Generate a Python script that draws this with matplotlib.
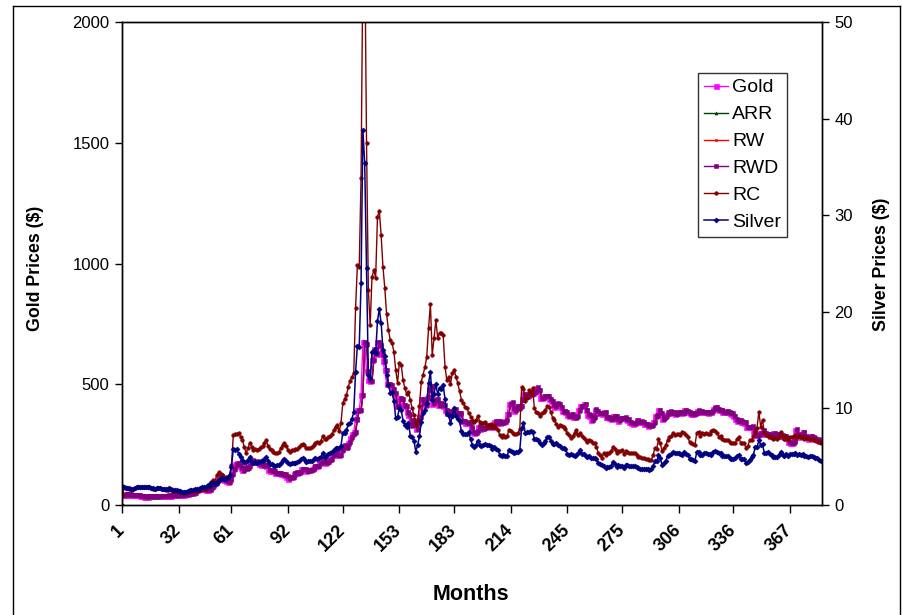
import numpy as np
import matplotlib
matplotlib.use("Agg")
import matplotlib.pyplot as plt
import matplotlib.transforms as mtransforms
from matplotlib.lines import Line2D

plt.rcParams['font.family'] = ['Liberation Sans', 'DejaVu Sans']

# Monthly observations, Jan 1969 .. Dec 2000 (one row per year)
gold = [
    42.3, 42.6, 43.2, 43.3, 43.5, 41.3, 41.8, 41.0, 40.7, 40.4, 37.4, 35.2,
    34.9, 35.0, 35.1, 35.6, 35.9, 35.4, 35.3, 35.4, 36.2, 37.5, 37.4, 37.4,
    37.9, 38.7, 38.9, 39.0, 40.5, 40.1, 40.9, 42.7, 42.0, 42.5, 42.9, 43.5,
    45.8, 48.3, 48.3, 49.0, 54.6, 62.1, 65.7, 67.0, 65.5, 64.9, 62.9, 63.9,
    65.1, 74.2, 84.4, 90.5, 102.0, 122.5, 120.2, 106.8, 103.0, 100.1, 94.8, 106.7,
    129.2, 150.2, 168.4, 172.2, 163.3, 154.1, 143.0, 154.6, 151.8, 158.8, 181.7, 183.9,
    176.3, 179.6, 178.2, 170.1, 167.4, 164.2, 165.1, 163.0, 144.1, 142.7, 142.8, 139.3,
    131.6, 131.1, 132.7, 127.9, 126.9, 125.8, 117.8, 109.3, 114.3, 116.0, 130.1, 133.9,
    132.3, 136.3, 148.2, 149.2, 146.9, 140.8, 143.2, 144.6, 150.0, 159.3, 162.0, 160.5,
    173.2, 178.2, 183.7, 175.3, 176.3, 183.7, 188.7, 206.0, 212.4, 227.4, 206.0, 207.8,
    227.3, 245.7, 242.1, 239.2, 257.6, 279.1, 294.7, 300.8, 355.1, 391.7, 392.5, 455.1,
    675.3, 665.3, 553.6, 517.4, 513.8, 600.7, 644.3, 627.0, 673.6, 661.2, 623.5, 594.9,
    557.6, 500.5, 499.8, 495.8, 479.7, 460.8, 409.3, 410.1, 443.6, 437.8, 413.4, 410.1,
    384.0, 374.2, 330.0, 350.4, 333.9, 314.9, 338.6, 364.2, 438.0, 422.9, 414.4, 444.9,
    481.3, 491.1, 419.7, 432.8, 438.4, 412.9, 422.5, 416.3, 411.8, 393.6, 381.6, 388.0,
    370.9, 386.2, 394.6, 381.4, 377.7, 377.7, 348.2, 347.7, 341.1, 340.2, 341.2, 320.2,
    302.8, 299.1, 304.0, 324.7, 316.1, 316.9, 317.3, 330.0, 323.4, 325.6, 325.3, 322.4,
    345.5, 339.0, 346.4, 340.4, 342.6, 342.6, 348.7, 376.4, 418.0, 423.6, 398.6, 391.3,
    408.1, 401.1, 408.9, 438.4, 460.1, 449.6, 450.5, 460.7, 459.8, 465.5, 467.4, 486.3,
    476.7, 442.1, 443.6, 452.1, 451.3, 451.8, 437.5, 431.4, 413.6, 406.8, 420.2, 418.6,
    404.0, 387.8, 390.2, 384.3, 371.0, 367.6, 375.0, 365.4, 362.6, 367.0, 391.8, 409.2,
    410.1, 416.8, 393.1, 374.3, 369.6, 352.3, 362.5, 394.8, 389.3, 380.7, 381.8, 378.2,
    383.6, 363.8, 363.3, 358.4, 356.8, 366.7, 367.7, 356.4, 348.7, 358.7, 359.6, 361.8,
    354.5, 353.9, 344.3, 338.6, 337.2, 341.0, 352.8, 343.2, 345.4, 344.4, 335.0, 334.8,
    329.0, 329.3, 330.1, 342.2, 367.2, 371.9, 392.0, 379.8, 355.5, 364.2, 373.6, 383.4,
    387.0, 382.0, 383.9, 377.3, 381.4, 385.6, 385.5, 380.4, 391.6, 389.8, 384.4, 379.3,
    378.6, 376.5, 382.1, 391.0, 385.2, 387.6, 386.2, 383.7, 383.1, 383.0, 385.5, 387.0,
    399.5, 404.8, 396.2, 392.8, 391.9, 385.3, 383.5, 387.5, 383.1, 381.1, 377.9, 369.0,
    355.0, 346.6, 351.8, 344.5, 343.8, 340.8, 324.1, 324.0, 322.8, 324.9, 306.0, 288.7,
    289.1, 297.5, 295.9, 308.3, 299.1, 292.3, 292.9, 284.1, 288.9, 296.1, 294.1, 291.6,
    287.1, 287.3, 286.0, 282.6, 276.4, 261.3, 256.1, 256.7, 265.0, 311.6, 293.2, 283.1,
    284.6, 300.4, 286.4, 279.7, 275.1, 285.7, 281.6, 274.5, 273.7, 270.0, 266.0, 271.5,
]

arr = [
    41, 41, 42, 42, 42, 43, 40, 41, 40, 40, 39, 36,
    34, 34, 34, 34, 35, 35, 34, 34, 34, 35, 37, 36,
    36, 37, 38, 38, 38, 40, 39, 40, 42, 41, 42, 42,
    43, 45, 47, 47, 48, 54, 61, 65, 66, 65, 64, 62,
    63, 64, 73, 83, 90, 101, 122, 119, 106, 102, 99, 94,
    106, 128, 149, 167, 171, 162, 153, 142, 154, 151, 158, 181,
    183, 175, 179, 177, 169, 166, 163, 164, 162, 143, 142, 142,
    138, 131, 130, 132, 127, 126, 125, 117, 108, 113, 115, 129,
    133, 131, 135, 147, 148, 146, 140, 142, 144, 149, 158, 161,
    160, 172, 177, 183, 174, 175, 183, 188, 205, 211, 226, 205,
    207, 226, 245, 241, 238, 257, 278, 294, 300, 354, 391, 392,
    454, 674, 664, 553, 516, 513, 600, 643, 626, 673, 660, 623,
    594, 557, 500, 499, 495, 479, 460, 408, 409, 443, 437, 412,
    409, 383, 373, 329, 349, 333, 314, 338, 363, 437, 422, 413,
    444, 480, 490, 419, 432, 437, 412, 422, 415, 411, 393, 381,
    387, 370, 385, 394, 380, 377, 377, 347, 347, 340, 339, 340,
    319, 302, 298, 303, 324, 315, 316, 316, 329, 322, 325, 324,
    321, 345, 338, 345, 339, 342, 342, 348, 375, 417, 423, 398,
    390, 407, 400, 408, 437, 459, 449, 450, 460, 459, 465, 466,
    485, 476, 441, 443, 451, 450, 451, 437, 430, 413, 406, 419,
    418, 403, 387, 389, 383, 370, 367, 374, 364, 362, 366, 391,
    408, 409, 416, 392, 373, 369, 351, 362, 394, 388, 380, 381,
    377, 383, 363, 362, 357, 356, 366, 367, 355, 348, 358, 359,
    361, 354, 353, 343, 338, 336, 340, 352, 342, 344, 343, 334,
    334, 328, 328, 329, 341, 366, 371, 391, 379, 355, 363, 373,
    382, 386, 381, 383, 376, 380, 385, 385, 379, 391, 389, 383,
    378, 378, 376, 381, 390, 384, 387, 385, 383, 382, 382, 385,
    386, 399, 404, 395, 392, 391, 384, 383, 387, 382, 380, 377,
    368, 354, 346, 351, 344, 343, 340, 323, 323, 322, 324, 305,
    288, 288, 297, 295, 307, 298, 291, 292, 283, 288, 295, 293,
    291, 286, 286, 285, 282, 275, 260, 255, 256, 264, 311, 292,
    282, 284, 299, 285, 279, 274, 285, 281, 274, 273, 269, 265,
]

rw = [
    42, 42, 43, 43, 43, 44, 41, 42, 41, 41, 40, 37,
    35, 35, 35, 35, 36, 36, 35, 35, 35, 36, 38, 37,
    37, 38, 39, 39, 39, 41, 40, 41, 43, 42, 43, 43,
    44, 46, 48, 48, 49, 55, 62, 66, 67, 66, 65, 63,
    64, 65, 74, 84, 91, 102, 123, 120, 107, 103, 100, 95,
    107, 129, 150, 168, 172, 163, 154, 143, 155, 152, 159, 182,
    184, 176, 180, 178, 170, 167, 164, 165, 163, 144, 143, 143,
    139, 132, 131, 133, 128, 127, 126, 118, 109, 114, 116, 130,
    134, 132, 136, 148, 149, 147, 141, 143, 145, 150, 159, 162,
    161, 173, 178, 184, 175, 176, 184, 189, 206, 212, 227, 206,
    208, 227, 246, 242, 239, 258, 279, 295, 301, 355, 392, 393,
    455, 675, 665, 554, 517, 514, 601, 644, 627, 674, 661, 624,
    595, 558, 501, 500, 496, 480, 461, 409, 410, 444, 438, 413,
    410, 384, 374, 330, 350, 334, 315, 339, 364, 438, 423, 414,
    445, 481, 491, 420, 433, 438, 413, 423, 416, 412, 394, 382,
    388, 371, 386, 395, 381, 378, 378, 348, 348, 341, 340, 341,
    320, 303, 299, 304, 325, 316, 317, 317, 330, 323, 326, 325,
    322, 346, 339, 346, 340, 343, 343, 349, 376, 418, 424, 399,
    391, 408, 401, 409, 438, 460, 450, 451, 461, 460, 466, 467,
    486, 477, 442, 444, 452, 451, 452, 438, 431, 414, 407, 420,
    419, 404, 388, 390, 384, 371, 368, 375, 365, 363, 367, 392,
    409, 410, 417, 393, 374, 370, 352, 363, 395, 389, 381, 382,
    378, 384, 364, 363, 358, 357, 367, 368, 356, 349, 359, 360,
    362, 355, 354, 344, 339, 337, 341, 353, 343, 345, 344, 335,
    335, 329, 329, 330, 342, 367, 372, 392, 380, 356, 364, 374,
    383, 387, 382, 384, 377, 381, 386, 386, 380, 392, 390, 384,
    379, 379, 377, 382, 391, 385, 388, 386, 384, 383, 383, 386,
    387, 400, 405, 396, 393, 392, 385, 384, 388, 383, 381, 378,
    369, 355, 347, 352, 345, 344, 341, 324, 324, 323, 325, 306,
    289, 289, 298, 296, 308, 299, 292, 293, 284, 289, 296, 294,
    292, 287, 287, 286, 283, 276, 261, 256, 257, 265, 312, 293,
    283, 285, 300, 286, 280, 275, 286, 282, 275, 274, 270, 266,
]

rwd = [
    43, 43, 44, 44, 44, 45, 42, 43, 42, 42, 41, 38,
    36, 36, 36, 36, 37, 37, 36, 36, 36, 37, 39, 38,
    38, 39, 40, 40, 40, 42, 41, 42, 44, 43, 44, 44,
    45, 47, 49, 49, 50, 56, 63, 67, 68, 67, 66, 64,
    65, 66, 75, 85, 92, 103, 124, 121, 108, 104, 101, 96,
    108, 130, 151, 169, 173, 164, 155, 144, 156, 153, 160, 183,
    185, 177, 181, 179, 171, 168, 165, 166, 164, 145, 144, 144,
    140, 133, 132, 134, 129, 128, 127, 119, 110, 115, 117, 131,
    135, 133, 137, 149, 150, 148, 142, 144, 146, 151, 160, 163,
    162, 174, 179, 185, 176, 177, 185, 190, 207, 213, 228, 207,
    209, 228, 247, 243, 240, 259, 280, 296, 302, 356, 393, 394,
    456, 676, 666, 555, 518, 515, 602, 645, 628, 675, 662, 625,
    596, 559, 502, 501, 497, 481, 462, 410, 411, 445, 439, 414,
    411, 385, 375, 331, 351, 335, 316, 340, 365, 439, 424, 415,
    446, 482, 492, 421, 434, 439, 414, 424, 417, 413, 395, 383,
    389, 372, 387, 396, 382, 379, 379, 349, 349, 342, 341, 342,
    321, 304, 300, 305, 326, 317, 318, 318, 331, 324, 327, 326,
    323, 347, 340, 347, 341, 344, 344, 350, 377, 419, 425, 400,
    392, 409, 402, 410, 439, 461, 451, 452, 462, 461, 467, 468,
    487, 478, 443, 445, 453, 452, 453, 439, 432, 415, 408, 421,
    420, 405, 389, 391, 385, 372, 369, 376, 366, 364, 368, 393,
    410, 411, 418, 394, 375, 371, 353, 364, 396, 390, 382, 383,
    379, 385, 365, 364, 359, 358, 368, 369, 357, 350, 360, 361,
    363, 356, 355, 345, 340, 338, 342, 354, 344, 346, 345, 336,
    336, 330, 330, 331, 343, 368, 373, 393, 381, 357, 365, 375,
    384, 388, 383, 385, 378, 382, 387, 387, 381, 393, 391, 385,
    380, 380, 378, 383, 392, 386, 389, 387, 385, 384, 384, 387,
    388, 401, 406, 397, 394, 393, 386, 385, 389, 384, 382, 379,
    370, 356, 348, 353, 346, 345, 342, 325, 325, 324, 326, 307,
    290, 290, 299, 297, 309, 300, 293, 294, 285, 290, 297, 295,
    293, 288, 288, 287, 284, 277, 262, 257, 258, 266, 313, 294,
    284, 286, 301, 287, 281, 276, 287, 283, 276, 275, 271, 267,
]

rc = [
    0, 75, 72, 69, 68, 66, 65, 71, 73, 75, 73, 74,
    74, 76, 75, 74, 70, 68, 68, 70, 72, 70, 68, 66,
    62, 62, 65, 63, 59, 59, 60, 57, 53, 52, 51, 52,
    53, 56, 56, 57, 58, 59, 61, 63, 67, 66, 67, 73,
    82, 95, 102, 100, 125, 135, 130, 124, 118, 115, 112, 125,
    165, 290, 292, 296, 298, 280, 269, 240, 215, 235, 257, 240,
    228, 230, 226, 232, 240, 243, 255, 269, 245, 230, 228, 220,
    215, 216, 220, 235, 250, 257, 245, 228, 219, 226, 228, 232,
    232, 240, 250, 254, 248, 234, 236, 236, 242, 250, 257, 261,
    258, 265, 285, 272, 272, 283, 286, 292, 310, 325, 330, 305,
    340, 422, 440, 455, 489, 515, 530, 547, 815, 994, 985, 1354,
    2250, 2350, 1498, 890, 745, 944, 973, 940, 1193, 1218, 1118, 986,
    900, 790, 725, 683, 670, 634, 559, 505, 590, 580, 518, 484,
    458, 468, 435, 400, 373, 330, 352, 410, 511, 540, 570, 614,
    733, 832, 621, 691, 766, 691, 712, 712, 704, 573, 518, 531,
    500, 545, 559, 531, 505, 470, 435, 422, 407, 400, 380, 366,
    352, 345, 350, 370, 345, 340, 338, 345, 324, 330, 335, 322,
    330, 320, 312, 290, 283, 288, 282, 285, 310, 305, 300, 295,
    295, 298, 315, 490, 480, 430, 443, 476, 460, 484, 400, 386,
    380, 370, 380, 385, 393, 410, 407, 385, 360, 352, 335, 325,
    330, 326, 324, 315, 300, 290, 277, 285, 300, 311, 290, 300,
    285, 277, 270, 262, 270, 267, 258, 255, 240, 215, 205, 195,
    215, 205, 214, 216, 222, 240, 232, 215, 224, 222, 228, 212,
    222, 220, 216, 214, 215, 214, 208, 200, 198, 196, 193, 192,
    190, 188, 186, 205, 235, 232, 272, 255, 222, 235, 248, 269,
    280, 285, 300, 288, 292, 295, 290, 304, 298, 290, 280, 262,
    258, 252, 248, 300, 304, 285, 300, 295, 298, 292, 295, 305,
    311, 305, 298, 283, 285, 275, 270, 269, 268, 262, 258, 255,
    258, 272, 280, 258, 258, 255, 235, 245, 269, 270, 285, 304,
    320, 386, 324, 352, 298, 290, 285, 283, 280, 275, 277, 272,
    280, 304, 285, 275, 285, 269, 280, 282, 284, 290, 282, 285,
    283, 285, 275, 276, 276, 275, 274, 270, 269, 265, 260, 255,
]

silver = [
    1.93, 1.87, 1.80, 1.73, 1.71, 1.66, 1.62, 1.78, 1.82, 1.87, 1.83, 1.85,
    1.85, 1.90, 1.87, 1.85, 1.74, 1.71, 1.70, 1.74, 1.80, 1.74, 1.70, 1.64,
    1.64, 1.63, 1.72, 1.65, 1.56, 1.55, 1.58, 1.49, 1.40, 1.36, 1.34, 1.36,
    1.48, 1.56, 1.55, 1.58, 1.62, 1.63, 1.70, 1.76, 1.85, 1.83, 1.87, 2.03,
    2.00, 2.28, 2.29, 2.16, 2.26, 2.56, 2.66, 2.77, 2.70, 2.67, 2.86, 3.08,
    3.98, 5.80, 5.70, 5.76, 5.27, 4.94, 4.67, 4.48, 4.42, 4.70, 4.93, 4.47,
    4.37, 4.41, 4.35, 4.43, 4.51, 4.56, 4.79, 4.98, 4.59, 4.22, 4.26, 4.13,
    4.08, 4.10, 4.15, 4.38, 4.65, 4.72, 4.58, 4.34, 4.25, 4.31, 4.32, 4.37,
    4.40, 4.51, 4.78, 4.84, 4.73, 4.46, 4.52, 4.51, 4.58, 4.72, 4.82, 4.79,
    4.89, 5.02, 5.35, 5.02, 5.04, 5.29, 5.34, 5.45, 5.67, 5.91, 5.94, 5.93,
    6.11, 7.50, 7.47, 7.73, 8.37, 8.53, 8.93, 9.59, 13.76, 16.51, 16.39, 22.97,
    38.85, 35.37, 24.50, 13.50, 13.10, 15.85, 16.04, 15.71, 19.07, 20.25, 18.86, 16.09,
    15.44, 13.45, 12.47, 11.63, 11.68, 10.74, 8.98, 9.08, 10.09, 9.83, 8.73, 8.31,
    8.04, 8.48, 7.17, 7.00, 6.66, 5.51, 6.22, 7.11, 8.62, 9.53, 9.85, 10.53,
    12.62, 13.79, 10.87, 11.53, 12.53, 11.45, 12.14, 11.98, 12.47, 10.93, 9.41, 9.33,
    8.45, 9.26, 10.04, 9.18, 8.92, 8.66, 7.63, 7.33, 7.34, 7.30, 7.51, 6.85,
    6.18, 5.97, 6.24, 6.66, 6.18, 6.13, 6.16, 6.27, 6.17, 6.17, 6.13, 5.83,
    6.01, 5.84, 5.70, 5.22, 5.07, 5.16, 5.06, 5.07, 5.67, 5.61, 5.52, 5.41,
    5.45, 5.49, 5.72, 7.94, 8.52, 7.41, 7.60, 7.58, 7.61, 7.55, 6.82, 6.81,
    6.71, 6.38, 6.21, 6.41, 6.58, 7.04, 6.99, 6.67, 6.34, 6.31, 6.40, 6.17,
    6.06, 5.95, 5.90, 5.78, 5.33, 5.21, 5.24, 5.18, 5.12, 5.13, 5.35, 5.71,
    5.25, 5.29, 5.05, 4.97, 5.08, 4.90, 4.83, 4.87, 4.76, 4.33, 4.29, 4.16,
    4.04, 3.83, 3.94, 3.95, 4.05, 4.43, 4.25, 3.96, 4.12, 4.07, 4.06, 3.88,
    4.13, 4.12, 4.06, 4.00, 4.03, 4.04, 3.96, 3.79, 3.76, 3.74, 3.74, 3.71,
    3.68, 3.66, 3.71, 4.02, 4.52, 4.52, 5.14, 4.84, 4.11, 4.30, 4.59, 5.06,
    5.19, 5.28, 5.52, 5.34, 5.38, 5.42, 5.33, 5.18, 5.51, 5.32, 5.17, 4.80,
    4.76, 4.67, 4.59, 5.49, 5.52, 5.15, 5.15, 5.38, 5.42, 5.32, 5.33, 5.21,
    5.49, 5.60, 5.52, 5.39, 5.36, 5.12, 5.06, 5.10, 5.06, 4.91, 4.80, 4.76,
    4.82, 5.09, 5.21, 4.75, 4.76, 4.74, 4.34, 4.50, 4.70, 5.00, 5.18, 6.02,
    6.00, 6.68, 6.21, 6.28, 5.37, 5.41, 5.52, 5.27, 5.15, 5.01, 5.00, 4.92,
    5.16, 5.51, 5.21, 5.04, 5.27, 5.07, 5.23, 5.23, 5.27, 5.41, 5.21, 5.26,
    5.20, 5.26, 5.06, 5.07, 5.01, 5.03, 5.03, 4.94, 4.90, 4.83, 4.69, 4.60,
]

month_ticks = [1, 32, 61, 92, 122, 153, 183, 214, 245, 275, 306, 336, 367]
gold_ticks = [0, 500, 1000, 1500, 2000]
silver_ticks = [0, 10, 20, 30, 40, 50]

months = np.arange(1, len(gold) + 1)

W, H = 902, 615
fig = plt.figure(figsize=(W / 100, H / 100), dpi=100)
fig.patch.set_facecolor('white')

# outer chart-area frame
frame_kw = dict(transform=fig.transFigure, color='black', lw=1.0)
fig.add_artist(Line2D([12.5 / W, 12.5 / W], [0, 1 - 5.5 / H], **frame_kw))
fig.add_artist(Line2D([12.5 / W, 899.5 / W], [1 - 5.5 / H, 1 - 5.5 / H], **frame_kw))
fig.add_artist(Line2D([899.5 / W, 899.5 / W], [0, 1 - 5.5 / H], **frame_kw))

L, R, T, B = 122, 822, 22, 505
ax = fig.add_axes([L / W, 1 - B / H, (R - L) / W, (B - T) / H])
ax2 = ax.twinx()

series = [
    (gold, 'Gold', '#FF00FF', 's', 3.6),
    (arr, 'ARR', '#004000', '^', 2.2),
    (rw, 'RW', '#FF0000', 's', 1.8),
    (rwd, 'RWD', '#800080', 's', 2.8),
    (rc, 'RC', '#800000', 'o', 2.6),
]
handles = []
for vals, name, col, mk, ms in series:
    h, = ax.plot(months, vals, color=col, lw=1.0, marker=mk, ms=ms,
                 mfc=col, mec=col, mew=0.4, label=name)
    handles.append(h)
hs, = ax2.plot(months, silver, color='#000080', lw=1.1, marker='D', ms=2.5,
               mfc='#000080', mec='#000080', mew=0.5, label='Silver')
handles.append(hs)

ax.set_xlim(1, 384.6)
ax.set_ylim(0, 2000)
ax2.set_ylim(0, 50)

ax.set_yticks(gold_ticks)
ax.set_yticklabels([str(v) for v in gold_ticks], fontsize=12)
ax2.set_yticks(silver_ticks)
ax2.set_yticklabels([str(v) for v in silver_ticks], fontsize=12)
ax.tick_params(axis='y', direction='out', length=5, width=1, pad=4)
ax2.tick_params(axis='y', direction='out', length=5, width=1, pad=4)

ax.set_xticks(month_ticks)
ax.set_xticklabels([str(v) for v in month_ticks], rotation=45, ha='right', va='top',
                   rotation_mode='anchor', fontsize=13, fontweight='bold')
ax.tick_params(axis='x', direction='out', length=6, width=1, pad=6)
shift = mtransforms.ScaledTranslation(-6 / 100, 0, fig.dpi_scale_trans)
for lab in ax.get_xticklabels():
    lab.set_transform(lab.get_transform() + shift)

for a in (ax, ax2):
    for s in a.spines.values():
        s.set_linewidth(1.0)
        s.set_color('black')

fig.text(35 / W, 1 - 268 / H, 'Gold Prices ($)', rotation=90, ha='center', va='center',
         fontsize=12.8, fontweight='bold')
fig.text(881 / W, 1 - 264 / H, 'Silver Prices ($)', rotation=90, ha='center', va='center',
         fontsize=12.8, fontweight='bold')
fig.text(471 / W, 1 - 594 / H, 'Months', ha='center', va='center',
         fontsize=15.5, fontweight='bold')

leg = ax2.legend(handles=handles, loc='upper left',
                 bbox_to_anchor=(698 / W, 1 - 73 / H), bbox_transform=fig.transFigure,
                 fontsize=14, frameon=True, fancybox=False, shadow=False,
                 handlelength=1.25, handletextpad=0.2, labelspacing=0.48,
                 borderpad=0.3, borderaxespad=0, numpoints=1)
leg.get_frame().set_edgecolor('black')
leg.get_frame().set_linewidth(1.0)

fig.savefig('out.png', dpi=100, facecolor='white')
